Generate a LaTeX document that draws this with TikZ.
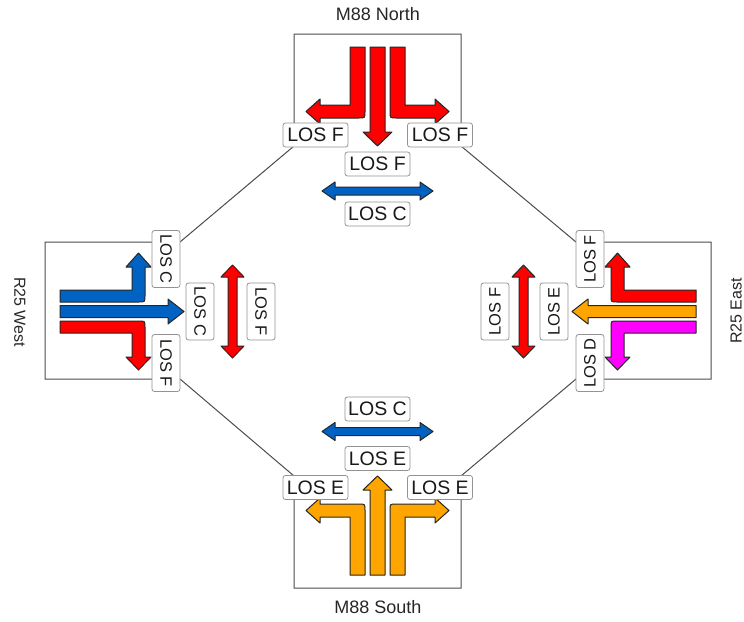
\documentclass[tikz,border=0pt]{standalone}
\usepackage{fontspec}
\setmainfont{Liberation Sans}

\definecolor{losred}{HTML}{FF0000}
\definecolor{losblue}{HTML}{0063C4}
\definecolor{losorange}{HTML}{FFA500}
\definecolor{losmagenta}{HTML}{FF00FF}

\tikzset{
  lane/.style={draw=black!85, line width=1pt, line join=round},
  los/.style={draw=gray!85, fill=white, rounded corners=2.5pt, inner sep=0pt, line width=0.8pt,
    text=black!90, font=\fontsize{19.5}{19.5}\selectfont,
    minimum width=65pt, minimum height=24pt},
  losv/.style={los, font=\fontsize{16.5}{16.5}\selectfont,
    minimum width=57pt, minimum height=28pt},
  arm/.style={font=\fontsize{18}{18}\selectfont, text=black!85, inner sep=0pt}
}

\begin{document}
\begin{tikzpicture}[x=1pt,y=-1pt]
\path[use as bounding box] (0,0) rectangle (744,621);

% junction outline
\draw[black!70, line width=1pt] (294,34) -- (461,34) -- (461,146) -- (576,242) -- (711,242) -- (711,379)
  -- (576,379) -- (461,476) -- (461,588) -- (294,588) -- (294,476) -- (180,379) -- (45,379) -- (45,242)
  -- (180,242) -- (294,146) -- cycle;

% M88 North approach
\filldraw[lane, fill=losred] (350,47) -- (365,47) -- (365,112) .. controls (365,118) .. (359,118) -- (320,118)
  -- (320,124) -- (306,111.5) -- (320,99) -- (320,105) -- (350,105) -- cycle;
\filldraw[lane, fill=losred] (370,47) -- (385,47) -- (385,132) -- (392,132) -- (377.5,146) -- (363,132) -- (370,132) -- cycle;
\filldraw[lane, fill=losred] (390,47) -- (405,47) -- (405,105) -- (435,105) -- (435,99) -- (449,111.5) -- (435,124)
  -- (435,118) -- (396,118) .. controls (390,118) .. (390,112) -- cycle;

% M88 South approach
\filldraw[lane, fill=losorange] (350,575) -- (365,575) -- (365,510) .. controls (365,504) .. (359,504) -- (320,504)
  -- (320,498) -- (306,510.5) -- (320,523) -- (320,517) -- (350,517) -- cycle;
\filldraw[lane, fill=losorange] (370,575) -- (385,575) -- (385,490) -- (392,490) -- (377.5,476) -- (363,490) -- (370,490) -- cycle;
\filldraw[lane, fill=losorange] (390,575) -- (405,575) -- (405,517) -- (435,517) -- (435,523) -- (449,510.5) -- (435,498)
  -- (435,504) -- (396,504) .. controls (390,504) .. (390,510) -- cycle;

% R25 West approach
\filldraw[lane, fill=losblue] (60,290) -- (132,290) -- (132,267) -- (126,267) -- (138.5,253) -- (151,267) -- (145,267)
  -- (145,296) .. controls (145,302) .. (139,302) -- (60,302) -- cycle;
\filldraw[lane, fill=losblue] (60,305.5) -- (168,305.5) -- (168,299) -- (184,311.5) -- (168,324) -- (168,317.5) -- (60,317.5) -- cycle;
\filldraw[lane, fill=losred] (60,321) -- (139,321) .. controls (145,321) .. (145,327) -- (145,357) -- (151,357)
  -- (138.5,370) -- (126,357) -- (132,357) -- (132,333) -- (60,333) -- cycle;

% R25 East approach
\filldraw[lane, fill=losred] (696,290) -- (624,290) -- (624,267) -- (630,267) -- (617.5,253) -- (605,267) -- (611,267)
  -- (611,296) .. controls (611,302) .. (617,302) -- (696,302) -- cycle;
\filldraw[lane, fill=losorange] (696,305.5) -- (588,305.5) -- (588,299) -- (572,311.5) -- (588,324) -- (588,317.5) -- (696,317.5) -- cycle;
\filldraw[lane, fill=losmagenta] (696,321) -- (617,321) .. controls (611,321) .. (611,327) -- (611,357) -- (605,357)
  -- (617.5,370) -- (630,357) -- (624,357) -- (624,333) -- (696,333) -- cycle;

% pedestrian crossings
\filldraw[lane, fill=losblue] (322,191) -- (335,182) -- (335,187) -- (420,187) -- (420,182) -- (433,191) -- (420,200)
  -- (420,195) -- (335,195) -- (335,200) -- cycle;
\filldraw[lane, fill=losblue] (322,431.5) -- (335,422.5) -- (335,427.5) -- (420,427.5) -- (420,422.5) -- (433,431.5)
  -- (420,440.5) -- (420,435.5) -- (335,435.5) -- (335,440.5) -- cycle;
\filldraw[lane, fill=losred] (232.5,265) -- (244,277) -- (237,277) -- (237,346) -- (244,346) -- (232.5,358) -- (221,346)
  -- (228,346) -- (228,277) -- (221,277) -- cycle;
\filldraw[lane, fill=losred] (523.5,265) -- (535,277) -- (528,277) -- (528,346) -- (535,346) -- (523.5,358) -- (512,346)
  -- (519,346) -- (519,277) -- (512,277) -- cycle;

% level of service labels
\node[los] (nleft) at (315.5,135) {LOS F};
\node[los] (nright) at (440,135) {LOS F};
\node[los] (nthru) at (377.5,164) {LOS F};
\node[los] (nped) at (377.5,214) {LOS C};
\node[los] (sped) at (377.5,409) {LOS C};
\node[los] (sthru) at (377.5,458.5) {LOS E};
\node[los] (sleft) at (315.5,487.5) {LOS E};
\node[los] (sright) at (440,487.5) {LOS E};
\node[losv, rotate=-90] (wleft) at (166,259) {LOS C};
\node[losv, rotate=-90] (wthru) at (200,311.5) {LOS C};
\node[losv, rotate=-90] (wped) at (261,311.5) {LOS F};
\node[losv, rotate=-90] (wright) at (166,363) {LOS F};
\node[losv, rotate=90] (eright) at (590,259) {LOS F};
\node[losv, rotate=90] (ethru) at (554,311.5) {LOS E};
\node[losv, rotate=90] (eped) at (495,311.5) {LOS F};
\node[losv, rotate=90] (eleft) at (590,363) {LOS D};

% approach names
\node[arm] (north) at (378,14) {M88 North};
\node[arm] (south) at (378,607) {M88 South};
\node[arm, rotate=-90, font=\fontsize{16}{16}\selectfont] (west) at (20,312) {R25 West};
\node[arm, rotate=90, font=\fontsize{16}{16}\selectfont] (east) at (736,311) {R25 East};
\end{tikzpicture}
\end{document}
